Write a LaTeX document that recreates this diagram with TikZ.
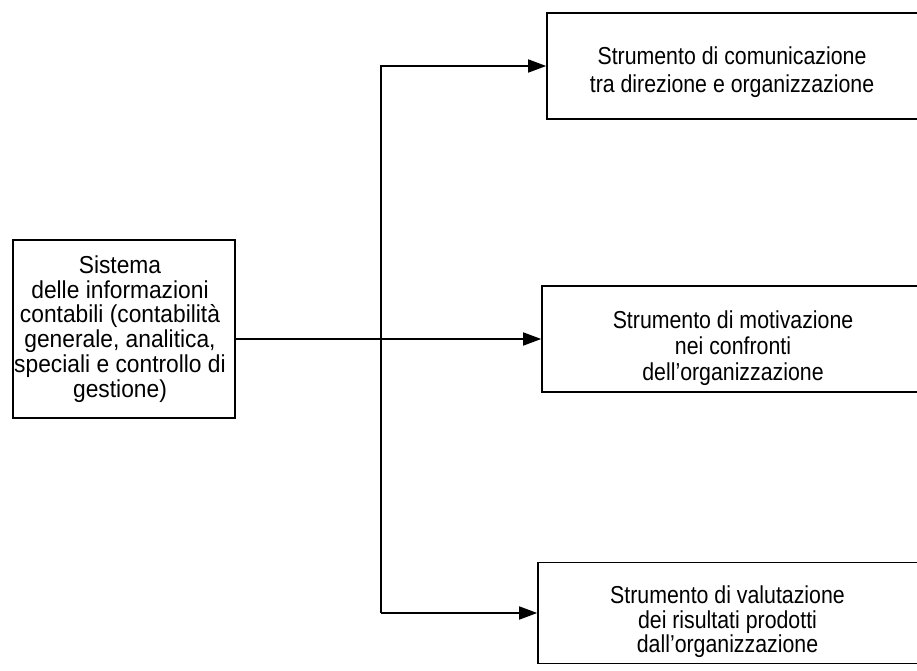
\documentclass[tikz,border=0pt]{standalone}
\usepackage{fontspec}
\setmainfont{Liberation Sans}
\newfontfamily\toolfont{Liberation Sans}[FakeStretch=0.87]
\newfontfamily\srcfont{Liberation Sans}[FakeStretch=0.93]
\usetikzlibrary{arrows.meta}
\begin{document}
\begin{tikzpicture}[x=1pt,y=-1pt,
  box/.style={draw, line width=1.6pt, inner sep=0pt},
  txt/.style={inner sep=0pt, align=center},
  srctext/.style={txt, font=\srcfont\fontsize{24.5}{24.8}\selectfont},
  tooltext/.style={txt, font=\toolfont\fontsize{24.5}{26}\selectfont},
  conn/.style={line width=1.6pt, line join=miter},
  arr/.style={conn, -{Triangle[length=18pt,width=13pt]}}]
\useasboundingbox (0,0) rectangle (917,671);
\begin{scope}
\clip (0,0) rectangle (917,671);
% source box on the left
\node[box, minimum width=222pt, minimum height=178pt] (src) at (124,329) {};
\node[srctext] (srcT) at (120,329)
  {Sistema\\delle informazioni\\contabili (contabilità\\generale, analitica,\\speciali e controllo di\\gestione)};
% three target boxes, running past the right edge
\node[box, minimum width=380pt, minimum height=106pt] (com) at (737,66) {};
\node[tooltext, font=\toolfont\fontsize{24.5}{28}\selectfont] (comT) at (732,72.5)
  {Strumento di comunicazione\\tra direzione e organizzazione};
\node[box, minimum width=384pt, minimum height=106pt] (mot) at (734,339) {};
\node[tooltext] (motT) at (733,348.5)
  {Strumento di motivazione\\nei confronti\\dell’organizzazione};
\node[box, minimum width=388pt, minimum height=101pt] (val) at (732,613) {};
\node[tooltext, font=\toolfont\fontsize{24.5}{24.5}\selectfont] (valT) at (727.5,622)
  {Strumento di valutazione\\dei risultati prodotti\\dall’organizzazione};
\end{scope}
% connectors
\coordinate (spine) at (381,0);
\draw[arr] (src.east |- mot.west) -- (mot.west);
\draw[arr] (spine |- val.west) -- (spine |- com.west) -- (com.west);
\draw[arr] (spine |- val.west) -- (val.west);
\end{tikzpicture}
\end{document}
